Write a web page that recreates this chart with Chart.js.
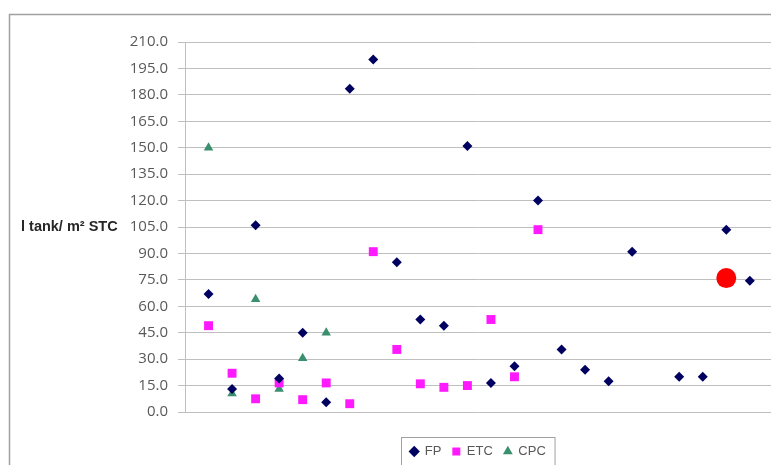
<!DOCTYPE html>
<html>
<head>
<meta charset="utf-8">
<script src="https://cdn.jsdelivr.net/npm/chart.js@4"></script>
<style>
  html, body { margin: 0; padding: 0; background: #fff; overflow: hidden; }
  #wrap { width: 771px; height: 465px; overflow: hidden; }
</style>
</head>
<body>
<div id="wrap"><canvas id="chart" width="781" height="480"></canvas></div>
<script>
    // one entry per system, left to right
    const cases = [1, 2, 3, 4, 5, 6, 7, 8, 9, 10, 11, 12, 13, 14, 15, 16, 17, 18, 19, 20, 21, 22, 23, 24];
    const fp  = [67, 13, 106, 19, 45, 5.5, 183.5, 200, 85, 52.5, 49, 151, 16.5, 26, 120, 35.5, 24, 17.5, 91, null, 20, 20, 103.5, 74.5];
    const etc = [49, 22, 7.5, 16.5, 7, 16.5, 4.7, 91, 35.5, 16, 14, 15, 52.5, 20, 103.5, null, null, null, null, null, null, null, null, null];
    const cpc = [150, 10.5, 64, 13, 30.5, 45, null, null, null, null, null, null, null, null, null, null, null, null, null, null, null, null, null, null];
    const highlightCase = 23;
    const highlightValue = 76;
    const yTicks = [0, 15, 30, 45, 60, 75, 90, 105, 120, 135, 150, 165, 180, 195, 210];

    const toPoints = arr => cases.map((c, i) => ({ x: c, y: arr[i] })).filter(p => p.y !== null);

    // outer frame, axis title and legend box
    const decor = {
      id: 'decor',
      beforeDraw(chart) {
        const ctx = chart.ctx;
        ctx.save();
        ctx.strokeStyle = '#a0a0a0';
        ctx.lineWidth = 1.5;
        ctx.strokeRect(9.5, 14.5, 900, 600);
        ctx.restore();
      },
      afterDraw(chart) {
        const ctx = chart.ctx;
        const y = chart.scales.y.getPixelForValue(105);
        ctx.save();
        ctx.font = 'bold 14.5px "Liberation Sans", Arial, sans-serif';
        ctx.fillStyle = '#262626';
        ctx.textBaseline = 'middle';
        ctx.fillText('l tank/ m² STC', 21, y);
        const boxes = chart.legend.legendHitBoxes;
        if (boxes.length) {
          const l = Math.min(...boxes.map(b => b.left)) - 9;
          const r = Math.max(...boxes.map(b => b.left + b.width)) + 9;
          const t = boxes[0].top - 8;
          ctx.strokeStyle = '#a0a0a0';
          ctx.lineWidth = 1;
          ctx.strokeRect(Math.round(l) + 0.5, Math.round(t) + 0.5, r - l, 40);
        }
        ctx.restore();
      }
    };

    new Chart(document.getElementById('chart').getContext('2d'), {
      type: 'scatter',
      data: {
        datasets: [{
          label: 'FP',
          data: toPoints(fp),
          pointStyle: 'rectRot',
          pointRadius: 5,
          backgroundColor: '#000060',
          borderColor: '#000060',
          borderWidth: 0
        }, {
          label: 'ETC',
          data: toPoints(etc),
          pointStyle: 'rect',
          pointRadius: 6.3,
          backgroundColor: '#ff19ff',
          borderColor: '#ff19ff',
          borderWidth: 0
        }, {
          label: 'CPC',
          data: toPoints(cpc),
          pointStyle: 'triangle',
          pointRadius: 5.5,
          backgroundColor: '#3a8f6e',
          borderColor: '#3a8f6e',
          borderWidth: 0
        }, {
          label: 'highlight',
          data: [{ x: highlightCase, y: highlightValue }],
          pointStyle: 'circle',
          pointRadius: 10,
          backgroundColor: '#ff0000',
          borderColor: '#ff0000',
          borderWidth: 0
        }]
      },
      options: {
        responsive: false,
        animation: false,
        layout: { padding: { top: 42, right: 0, bottom: 12, left: 0 } },
        plugins: {
          tooltip: { enabled: false },
          legend: {
            position: 'bottom',
            fullSize: false,
            labels: {
              usePointStyle: true,
              boxWidth: 8,
              boxHeight: 8,
              padding: 11,
              color: '#595959',
              font: { family: '"Liberation Sans", Arial, sans-serif', size: 13 },
              filter: item => item.text !== 'highlight'
            }
          }
        },
        scales: {
          x: {
            type: 'linear',
            min: 0,
            max: 24.9,
            ticks: { display: false },
            grid: { display: false },
            border: { display: false },
            afterFit: s => { s.height = 22; }
          },
          y: {
            min: 0,
            max: 210,
            afterBuildTicks: s => { s.ticks = yTicks.map(v => ({ value: v })); },
            ticks: {
              color: '#595959',
              padding: 10,
              font: { family: '"Open Sans", sans-serif', size: 15 },
              callback: v => Number(v).toFixed(1)
            },
            grid: { color: '#bfbfbf', tickLength: 7 },
            border: { display: true, color: '#bfbfbf' },
            afterFit: s => { s.width = 185; }
          }
        }
      },
      plugins: [decor]
    });
</script>
</body>
</html>
